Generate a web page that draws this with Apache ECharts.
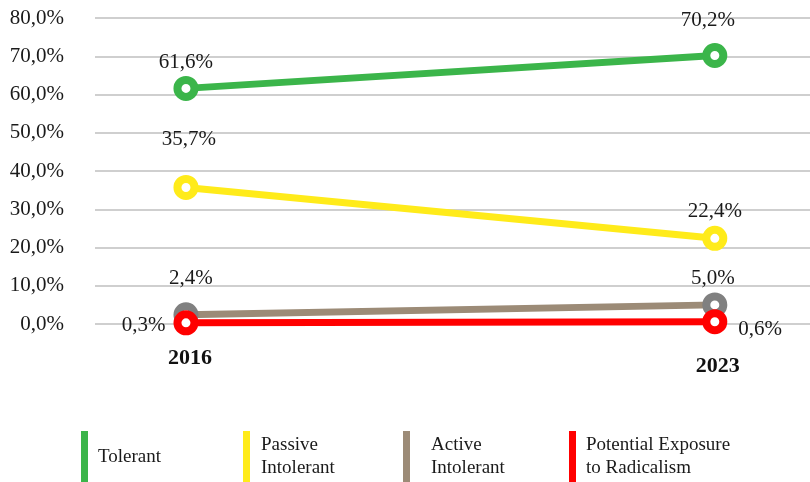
<!DOCTYPE html>
<html>
<head>
<meta charset="utf-8">
<script src="https://cdn.jsdelivr.net/npm/echarts@6/dist/echarts.min.js"></script>
<style>
  * { margin: 0; padding: 0; }
  body { background: #fff; }
</style>
</head>
<body>
<div id="chart" style="width: 810px; height: 482px"></div>
<script>
// 数据
var years = ["2016", "2023"];
var seriesNames = ["Tolerant", "Passive Intolerant", "Active Intolerant", "Potential Exposure to Radicalism"];
var tolerant = [61.6, 70.2];
var passiveIntolerant = [35.7, 22.4];
var activeIntolerant = [2.4, 5.0];
var radicalism = [0.3, 0.6];
var yTicks = [0, 10, 20, 30, 40, 50, 60, 70, 80];

var font = "Liberation Serif";
var pct = function (v) {
  return v.toFixed(1).replace(".", ",") + "%";
};

// 每个点的标签位置（跟原图对齐）
function makeData(values, labels) {
  return values.map(function (v, i) {
    return { value: [i, v], label: labels[i] };
  });
}

function lineSeries(name, values, lineColor, markColor, labels) {
  return {
    name: name,
    type: "line",
    data: makeData(values, labels),
    symbol: "circle",
    symbolSize: 17,
    lineStyle: { color: lineColor, width: 7 },
    itemStyle: { color: "#fff", borderColor: markColor, borderWidth: 8 },
    label: {
      show: true,
      fontFamily: font,
      fontSize: 21,
      color: "#1a1a1a",
      formatter: function (p) {
        return pct(p.value[1]);
      },
    },
    emphasis: { disabled: true },
    z: 2,
  };
}

var chart = echarts.init(document.getElementById("chart"));

var legendList = [
  { name: seriesNames[0], text: "Tolerant", color: "#3BB54A", left: 81, pad: 5 },
  { name: seriesNames[1], text: "Passive\nIntolerant", color: "#FFEB1A", left: 243, pad: 6 },
  { name: seriesNames[2], text: "Active\nIntolerant", color: "#9C8B77", left: 403, pad: 16 },
  { name: seriesNames[3], text: "Potential Exposure\nto Radicalism", color: "#FF0000", left: 569, pad: 5 },
];

var option = {
  animation: false,
  grid: { left: 95, right: 0, top: 18, bottom: 158 },
  xAxis: {
    type: "value",
    min: -0.172,
    max: 1.18,
    axisLine: { show: false },
    axisTick: { show: false },
    splitLine: { show: false },
    axisLabel: {
      customValues: [0, 1],
      margin: 23,
      formatter: function (v) {
        return v === 0 ? "{a|" + years[0] + "}" : "{b|" + years[1] + "}";
      },
      rich: {
        a: { fontFamily: font, fontSize: 22, fontWeight: "bold", color: "#111", padding: [0, 0, 0, 8] },
        b: { fontFamily: font, fontSize: 22, fontWeight: "bold", color: "#111", padding: [8, 0, 0, 6] },
      },
    },
  },
  yAxis: {
    type: "value",
    min: yTicks[0],
    max: yTicks[yTicks.length - 1],
    interval: 10,
    axisLine: { show: false },
    axisTick: { show: false },
    splitLine: { lineStyle: { color: "#cfcfcf", width: 2 } },
    axisLabel: {
      margin: 31,
      fontFamily: font,
      fontSize: 21,
      color: "#1a1a1a",
      formatter: function (v) {
        return pct(v);
      },
    },
  },
  legend: legendList.map(function (l) {
    return {
      left: l.left,
      top: 431,
      padding: 0,
      itemWidth: 7,
      itemHeight: 52,
      icon: "rect",
      selectedMode: false,
      data: [{ name: l.name, itemStyle: { color: l.color, borderWidth: 0 } }],
      formatter: function () {
        return l.text;
      },
      textStyle: {
        fontFamily: font,
        fontSize: 19,
        lineHeight: 23,
        color: "#1a1a1a",
        padding: [0, 0, 0, l.pad],
      },
    };
  }),
  series: [
    lineSeries(seriesNames[0], tolerant, "#3BB54A", "#3BB54A", [
      { position: "top", distance: 3 },
      { position: "top", distance: 12, offset: [-7, 0] },
    ]),
    lineSeries(seriesNames[1], passiveIntolerant, "#FFEB1A", "#FFEB1A", [
      { position: "top", distance: 25, offset: [3, 0] },
      { position: "top", distance: 4 },
    ]),
    lineSeries(seriesNames[2], activeIntolerant, "#9C8B77", "#808080", [
      { position: "top", distance: 13, offset: [5, 0] },
      { position: "top", distance: 3, offset: [-2, 0] },
    ]),
    lineSeries(seriesNames[3], radicalism, "#FF0000", "#FF0000", [
      { position: "left", distance: 8, offset: [0, 3] },
      { position: "right", distance: 11, offset: [0, 8] },
    ]),
  ],
};

chart.setOption(option);
</script>
</body>
</html>
